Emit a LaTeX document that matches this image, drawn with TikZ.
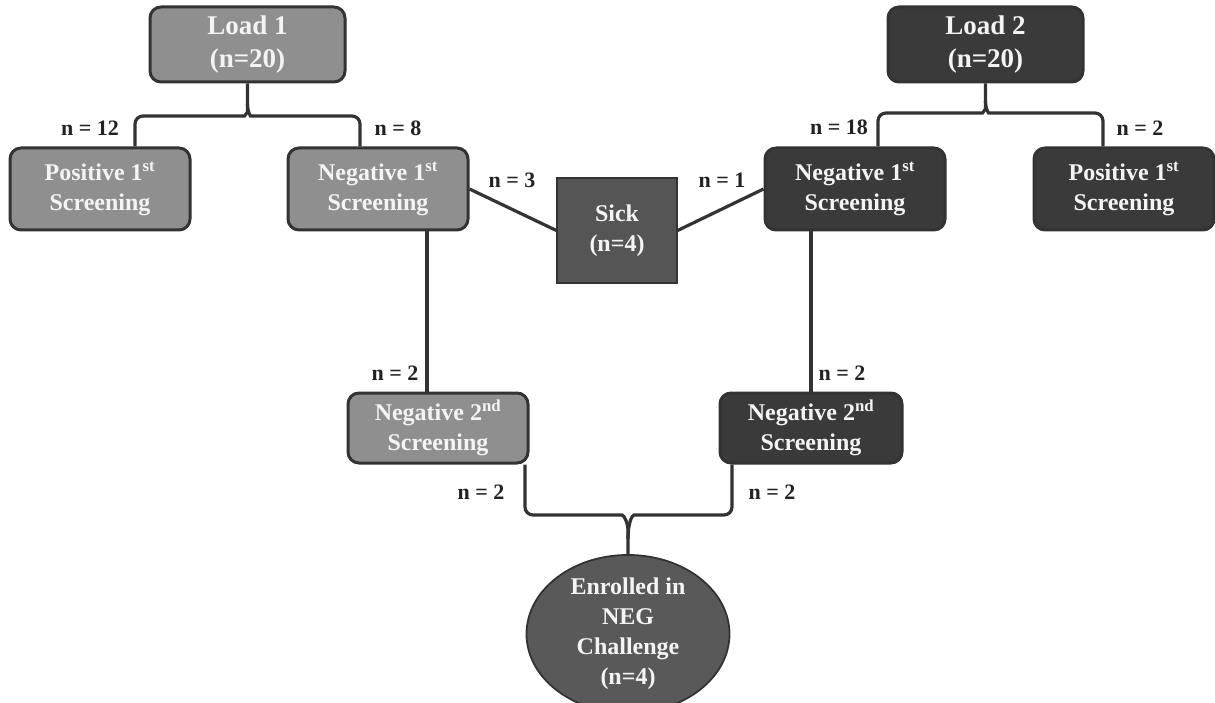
\documentclass[tikz,border=0pt]{standalone}
\usepackage{fontspec}
\setmainfont{Liberation Serif}
\usetikzlibrary{calc,shapes.geometric}
\definecolor{lightfill}{HTML}{8F8F8F}
\definecolor{darkfill}{HTML}{3A3A3A}
\definecolor{sickfill}{HTML}{555555}
\definecolor{ellfill}{HTML}{595959}
\definecolor{edge}{HTML}{333333}
\definecolor{txt}{HTML}{F4F4F4}
\definecolor{lbl}{HTML}{222222}
\tikzset{
  box/.style={draw=edge, line width=3pt, rounded corners=11pt, minimum width=#1,
    text=txt, font=\bfseries\fontsize{24}{30}\selectfont, align=center, inner sep=0pt},
  box/.default=180pt,
  lightbox/.style={box, fill=lightfill, minimum height=82pt},
  darkbox/.style={box, fill=darkfill, minimum height=82pt},
  loadbox/.style={font=\bfseries\fontsize{27}{33}\selectfont, minimum width=195pt, minimum height=75pt},
  sickbox/.style={draw=edge, line width=1.2pt, fill=sickfill, minimum width=120pt, minimum height=105pt,
    text=txt, font=\bfseries\fontsize{24}{30}\selectfont, align=center, inner sep=0pt},
  ellbox/.style={ellipse, draw=edge, line width=1.8pt, fill=ellfill, minimum width=203pt, minimum height=136pt,
    text=txt, font=\bfseries\fontsize{24}{30}\selectfont, align=center, inner sep=0pt},
  conn/.style={draw=edge, line width=3.2pt},
  lab/.style={text=lbl, font=\bfseries\fontsize{22}{24}\selectfont, inner sep=0pt}
}
\begin{document}
\begin{tikzpicture}[x=1pt,y=-1pt]
\useasboundingbox (0,0) rectangle (1215,703);
% nodes
\node[lightbox,loadbox] (load1) at (247.5,44.5) {Load 1\\(n=20)};
\node[lightbox] (pos1L) at (100,189) {Positive 1\textsuperscript{st}\\Screening};
\node[lightbox] (neg1L) at (378,189) {Negative 1\textsuperscript{st}\\Screening};
\node[sickbox] (sick) at (617,230.5) {Sick\\(n=4)};
\node[darkbox] (neg1R) at (855,189) {Negative 1\textsuperscript{st}\\Screening};
\node[darkbox,loadbox] (load2) at (985.5,44.5) {Load 2\\(n=20)};
\node[darkbox] (pos1R) at (1124,189) {Positive 1\textsuperscript{st}\\Screening};
\node[lightbox,minimum height=70pt] (neg2L) at (438,428) {Negative 2\textsuperscript{nd}\\Screening};
\node[darkbox,minimum height=70pt,minimum width=182pt] (neg2R) at (811,428) {Negative 2\textsuperscript{nd}\\Screening};
\node[ellbox] (enr) at (628,634) {Enrolled in\\NEG\\Challenge\\(n=4)};
% helper coordinates
\coordinate (b1l) at (135,116);
\coordinate (b1r) at (360,116);
\coordinate (b1) at (load1.south |- b1l);
\coordinate (b2l) at (878,113);
\coordinate (b2r) at (1103,113);
\coordinate (b2) at (load2.south |- b2l);
\coordinate (vL) at (427,0);
\coordinate (vR) at (811,0);
\coordinate (b3l) at (525,515);
\coordinate (b3r) at (732,515);
\coordinate (b3) at (enr.north |- b3l);
% connectors: Load 1 brace
\draw[conn,rounded corners=8pt] (pos1L.north -| b1l) -- (b1l) -- ($(b1)+(-11,0)$)
  .. controls ($(b1)+(-3,0)$) and ($(b1)+(0,-4)$) .. ($(b1)+(0,-12)$) -- (load1.south);
\draw[conn,rounded corners=8pt] (neg1L.north -| b1r) -- (b1r) -- ($(b1)+(11,0)$)
  .. controls ($(b1)+(3,0)$) and ($(b1)+(0,-4)$) .. ($(b1)+(0,-12)$);
% Load 2 brace
\draw[conn,rounded corners=8pt] (neg1R.north -| b2l) -- (b2l) -- ($(b2)+(-11,0)$)
  .. controls ($(b2)+(-3,0)$) and ($(b2)+(0,-4)$) .. ($(b2)+(0,-12)$) -- (load2.south);
\draw[conn,rounded corners=8pt] (pos1R.north -| b2r) -- (b2r) -- ($(b2)+(11,0)$)
  .. controls ($(b2)+(3,0)$) and ($(b2)+(0,-4)$) .. ($(b2)+(0,-12)$);
% sick links
\draw[conn] (neg1L.east) -- (sick.west);
\draw[conn] (sick.east) -- (neg1R.west);
% verticals
\draw[conn] (neg1L.south -| vL) -- (neg2L.north -| vL);
\draw[conn] (neg1R.south -| vR) -- (neg2R.north -| vR);
% bottom brace
\draw[conn,rounded corners=8pt] (neg2L.south -| b3l) -- (b3l) -- ($(b3)+(-14,0)$)
  .. controls ($(b3)+(-4,0)$) and ($(b3)+(0,8)$) .. ($(b3)+(0,24)$) -- (enr.north);
\draw[conn,rounded corners=8pt] (neg2R.south -| b3r) -- (b3r) -- ($(b3)+(14,0)$)
  .. controls ($(b3)+(4,0)$) and ($(b3)+(0,8)$) .. ($(b3)+(0,24)$);
% labels
\node[lab] (l12) at (90,128) {n = 12};
\node[lab] (l8) at (398,128) {n = 8};
\node[lab] (l3) at (512,180) {n = 3};
\node[lab] (l1) at (722,180) {n = 1};
\node[lab] (l18) at (839,127) {n = 18};
\node[lab] (l2a) at (1140,128) {n = 2};
\node[lab] (l2b) at (395,373) {n = 2};
\node[lab] (l2c) at (842,373) {n = 2};
\node[lab] (l2d) at (481,492) {n = 2};
\node[lab] (l2e) at (772,492) {n = 2};
\end{tikzpicture}
\end{document}
